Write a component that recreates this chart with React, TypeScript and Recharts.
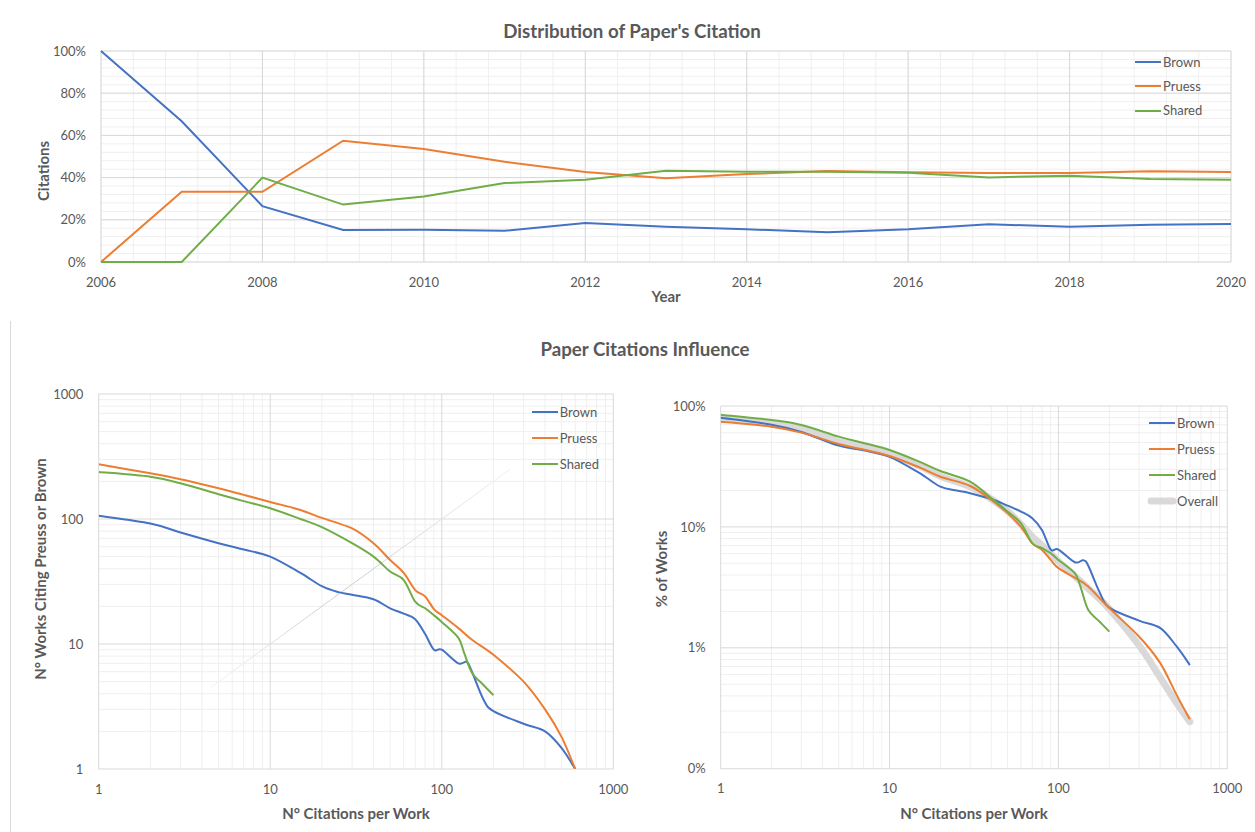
import { LineChart, Line, XAxis, YAxis, CartesianGrid, Legend } from "recharts";

const BLUE = "#4472C4";
const ORANGE = "#ED7D31";
const GREEN = "#70AD47";
const OVERALL = "#d9d9d9";
const INK = "#595959";
const GRID_MAJOR = "#d9d9d9";
const GRID_MINOR = "#efefef";
const FONT = "Lato, 'Open Sans', sans-serif";

// share of each year's citations
const years = [2006, 2007, 2008, 2009, 2010, 2011, 2012, 2013, 2014, 2015, 2016, 2017, 2018, 2019, 2020];
const brownByYear = [1.0, 0.667, 0.265, 0.152, 0.153, 0.148, 0.185, 0.167, 0.155, 0.141, 0.155, 0.179, 0.167, 0.177, 0.18];
const pruessByYear = [0, 0.333, 0.333, 0.575, 0.536, 0.475, 0.427, 0.397, 0.417, 0.431, 0.425, 0.422, 0.422, 0.43, 0.427];
const sharedByYear = [0, 0, 0.4, 0.272, 0.31, 0.374, 0.39, 0.433, 0.428, 0.428, 0.423, 0.401, 0.409, 0.393, 0.39];
const yearTicks = [2006, 2008, 2010, 2012, 2014, 2016, 2018, 2020];
const shareTicks = [0, 0.2, 0.4, 0.6, 0.8, 1];

// works citing with at least N citations
const brownCites = [1, 2, 3, 5, 7, 10, 15, 20, 25, 30, 40, 50, 60, 70, 80, 90, 100, 125, 140, 150, 175, 200, 300, 400, 500, 600];
const brownWorks = [106, 92, 78, 64, 57, 50, 37, 29, 26, 24.8, 22.8, 19.3, 17.5, 15.8, 12, 9, 9, 7, 7.2, 6, 3.6, 2.9, 2.3, 2.0, 1.47, 1];
const brownPct = [0.8, 0.7, 0.61, 0.47, 0.43, 0.38, 0.28, 0.215, 0.2, 0.19, 0.17, 0.15, 0.134, 0.118, 0.094, 0.065, 0.065, 0.051, 0.053, 0.048, 0.029, 0.0215, 0.0168, 0.0146, 0.0103, 0.0072];

const pruessCites = [1, 2, 3, 5, 7, 10, 15, 20, 30, 40, 50, 60, 70, 80, 90, 100, 125, 150, 200, 300, 400, 500, 600];
const pruessWorks = [274, 232, 208, 176, 156, 137, 118, 102, 84, 64, 47, 37, 27, 24, 19, 17, 13.4, 10.8, 8.2, 5.0, 3.0, 1.8, 1];
const pruessPct = [0.742, 0.675, 0.602, 0.485, 0.436, 0.386, 0.311, 0.26, 0.218, 0.167, 0.13, 0.1, 0.073, 0.0645, 0.0533, 0.0456, 0.038, 0.0321, 0.0213, 0.0124, 0.0075, 0.0041, 0.00256];

const sharedCites = [1, 2, 3, 5, 7, 10, 15, 20, 30, 40, 50, 60, 70, 80, 90, 100, 125, 135, 150, 175, 200];
const sharedWorks = [238, 218, 193, 158, 139, 122, 100, 86, 64, 50, 38, 32.5, 21.8, 19.3, 17, 15, 11.2, 8.5, 5.9, 4.7, 3.9];
const sharedPct = [0.848, 0.766, 0.697, 0.558, 0.495, 0.433, 0.347, 0.29, 0.237, 0.173, 0.134, 0.107, 0.0733, 0.0667, 0.0606, 0.0533, 0.0414, 0.0321, 0.0206, 0.0165, 0.0136];

const overallCites = [1, 2, 3, 5, 7, 10, 15, 20, 30, 40, 50, 60, 70, 80, 100, 150, 200, 300, 400, 500, 600];
const overallPct = [0.79, 0.71, 0.64, 0.51, 0.46, 0.405, 0.32, 0.262, 0.215, 0.17, 0.135, 0.105, 0.083, 0.07, 0.052, 0.031, 0.021, 0.0105, 0.0057, 0.0035, 0.00245];

// reference y = x guide
const diagonalCites = [4.5, 250];

const logTicks = [1, 10, 100, 1000];
const pctLogTicks = [0.001, 0.01, 0.1, 1];
const legendOrder = ["Brown", "Pruess", "Shared", "Overall"];

const toPoints = (xs: number[], ys: number[]) => xs.map((x, i) => ({ x, y: ys[i] }));
const pct = (v: number) => `${Math.round(v * 100)}%`;

// 2..9 inside every decade, for the light log grid
const logMinor = (from: number, to: number) => {
  const out: number[] = [];
  for (let d = from; d < to * 0.999; d *= 10) {
    for (let k = 2; k <= 9; k++) out.push(+(d * k).toPrecision(3));
  }
  return out;
};
const evenSteps = (from: number, to: number, step: number) => {
  const out: number[] = [];
  for (let v = from; v <= to + step / 2; v += step) out.push(+v.toFixed(4));
  return out;
};

// spreadsheet-style smoothed line: bezier segments with tangents from neighbouring points
const smoothLine = (context: any) => {
  let pts: [number, number][] = [];
  return {
    areaStart() {},
    areaEnd() {},
    lineStart() {
      pts = [];
    },
    point(x: number, y: number) {
      pts.push([+x, +y]);
    },
    lineEnd() {
      if (!pts.length) return;
      context.moveTo(pts[0][0], pts[0][1]);
      for (let i = 0; i < pts.length - 1; i++) {
        const p0 = pts[i - 1] ?? pts[i];
        const p1 = pts[i];
        const p2 = pts[i + 1];
        const p3 = pts[i + 2] ?? p2;
        context.bezierCurveTo(
          p1[0] + (p2[0] - p0[0]) / 6,
          p1[1] + (p2[1] - p0[1]) / 6,
          p2[0] - (p3[0] - p1[0]) / 6,
          p2[1] - (p3[1] - p1[1]) / 6,
          p2[0],
          p2[1]
        );
      }
    },
  };
};

const yearRows = years.map((year, i) => ({
  year,
  brown: brownByYear[i],
  pruess: pruessByYear[i],
  shared: sharedByYear[i],
}));

const tickStyle = { fill: INK, fontSize: 13, fontFamily: FONT };

const SeriesKey = ({ payload, rowHeight }: any) => {
  const items = (payload ?? [])
    .filter((entry: any) => entry.type !== "none")
    .sort((a: any, b: any) => legendOrder.indexOf(a.value) - legendOrder.indexOf(b.value));
  return (
    <div style={{ fontFamily: FONT, fontSize: 13, color: INK }}>
      {items.map((entry: any) => {
        const w = entry.payload?.strokeWidth ?? 2;
        const thick = w > 3;
        return (
          <div key={entry.value} style={{ display: "flex", alignItems: "center", height: rowHeight }}>
            <svg width={26} height={10} style={{ overflow: "visible" }}>
              <line
                x1={thick ? 2 : 0}
                x2={thick ? 24 : 26}
                y1={5}
                y2={5}
                stroke={entry.color}
                strokeWidth={w}
                strokeLinecap={thick ? "round" : "butt"}
              />
            </svg>
            <span style={{ marginLeft: 2, lineHeight: 1 }}>{entry.value}</span>
          </div>
        );
      })}
    </div>
  );
};

const Caption = ({ x, y, size, text, rotate }: { x: number; y: number; size: number; text: string; rotate?: boolean }) => (
  <div
    style={{
      position: "absolute",
      left: x,
      top: y,
      transform: `translate(-50%, -50%)${rotate ? " rotate(-90deg)" : ""}`,
      whiteSpace: "nowrap",
      fontFamily: FONT,
      fontWeight: 700,
      fontSize: size,
      lineHeight: 1,
      color: INK,
    }}
  >
    {text}
  </div>
);

const YearChart = () => (
  <div style={{ position: "absolute", left: 0, top: 0 }}>
    <LineChart width={1255} height={300} data={yearRows} margin={{ top: 51, right: 24, bottom: 8, left: 41 }}>
      <CartesianGrid stroke={GRID_MINOR} horizontalValues={evenSteps(0, 1, 0.04)} verticalValues={evenSteps(2006, 2020, 0.4)} />
      <CartesianGrid stroke={GRID_MAJOR} horizontalValues={shareTicks} verticalValues={yearTicks} />
      <XAxis
        dataKey="year"
        type="number"
        domain={[2006, 2020]}
        ticks={yearTicks}
        interval={0}
        axisLine={false}
        tickLine={false}
        tickSize={0}
        tickMargin={16}
        height={30}
        tick={tickStyle}
      />
      <YAxis
        type="number"
        domain={[0, 1]}
        ticks={shareTicks}
        interval={0}
        tickFormatter={pct}
        axisLine={false}
        tickLine={false}
        tickSize={0}
        tickMargin={15}
        width={60}
        tick={tickStyle}
      />
      <Legend
        content={<SeriesKey rowHeight={24.3} />}
        layout="vertical"
        align="center"
        verticalAlign="middle"
        wrapperStyle={{ left: 1135, top: 50, width: "auto", height: "auto" }}
      />
      <Line type="linear" dataKey="brown" name="Brown" stroke={BLUE} strokeWidth={2} dot={false} isAnimationActive={false} />
      <Line type="linear" dataKey="pruess" name="Pruess" stroke={ORANGE} strokeWidth={2} dot={false} isAnimationActive={false} />
      <Line type="linear" dataKey="shared" name="Shared" stroke={GREEN} strokeWidth={2} dot={false} isAnimationActive={false} />
    </LineChart>
  </div>
);

const logX = (
  <XAxis
    dataKey="x"
    type="number"
    scale="log"
    domain={[1, 1000]}
    ticks={logTicks}
    interval={0}
    allowDataOverflow
    axisLine={false}
    tickLine={false}
    tickSize={0}
    tickMargin={15.5}
    height={30}
    tick={tickStyle}
  />
);

const WorksChart = () => (
  <div style={{ position: "absolute", left: 0, top: 350 }}>
    <LineChart width={640} height={480} margin={{ top: 44, right: 26.7, bottom: 31, left: 38.7 }}>
      <defs>
        <linearGradient id="diagFade" x1="0" y1="1" x2="1" y2="0">
          <stop offset="0%" stopColor="#f2f2f2" />
          <stop offset="45%" stopColor="#cccccc" />
          <stop offset="100%" stopColor="#f0f0f0" />
        </linearGradient>
      </defs>
      <CartesianGrid stroke={GRID_MINOR} horizontalValues={logMinor(1, 1000)} verticalValues={logMinor(1, 1000)} />
      <CartesianGrid stroke={GRID_MAJOR} horizontalValues={logTicks} verticalValues={logTicks} />
      {logX}
      <YAxis
        type="number"
        scale="log"
        domain={[1, 1000]}
        ticks={logTicks}
        interval={0}
        allowDataOverflow
        axisLine={false}
        tickLine={false}
        tickSize={0}
        tickMargin={15.4}
        width={60}
        tick={tickStyle}
      />
      <Legend
        content={<SeriesKey rowHeight={26} />}
        layout="vertical"
        align="center"
        verticalAlign="middle"
        wrapperStyle={{ left: 531.7, top: 49, width: "auto", height: "auto" }}
      />
      <Line data={toPoints(diagonalCites, diagonalCites)} dataKey="y" name="y=x" stroke="url(#diagFade)" strokeWidth={1} dot={false} legendType="none" isAnimationActive={false} />
      <Line data={toPoints(brownCites, brownWorks)} type={smoothLine} dataKey="y" name="Brown" stroke={BLUE} strokeWidth={2} dot={false} isAnimationActive={false} />
      <Line data={toPoints(pruessCites, pruessWorks)} type={smoothLine} dataKey="y" name="Pruess" stroke={ORANGE} strokeWidth={2} dot={false} isAnimationActive={false} />
      <Line data={toPoints(sharedCites, sharedWorks)} type={smoothLine} dataKey="y" name="Shared" stroke={GREEN} strokeWidth={2} dot={false} isAnimationActive={false} />
    </LineChart>
  </div>
);

const ShareChart = () => (
  <div style={{ position: "absolute", left: 640, top: 350 }}>
    <LineChart width={615} height={480} margin={{ top: 56, right: 27.7, bottom: 31.3, left: 20.7 }}>
      <CartesianGrid stroke={GRID_MINOR} horizontalValues={logMinor(0.001, 1)} verticalValues={logMinor(1, 1000)} />
      <CartesianGrid stroke={GRID_MAJOR} horizontalValues={pctLogTicks} verticalValues={logTicks} />
      {logX}
      <YAxis
        type="number"
        scale="log"
        domain={[0.001, 1]}
        ticks={pctLogTicks}
        interval={0}
        allowDataOverflow
        tickFormatter={pct}
        axisLine={false}
        tickLine={false}
        tickSize={0}
        tickMargin={15}
        width={60}
        tick={tickStyle}
      />
      <Legend
        content={<SeriesKey rowHeight={26} />}
        layout="vertical"
        align="center"
        verticalAlign="middle"
        wrapperStyle={{ left: 509, top: 60.3, width: "auto", height: "auto" }}
      />
      <Line data={toPoints(overallCites, overallPct)} type={smoothLine} dataKey="y" name="Overall" stroke={OVERALL} strokeWidth={7} strokeLinecap="round" dot={false} isAnimationActive={false} />
      <Line data={toPoints(brownCites, brownPct)} type={smoothLine} dataKey="y" name="Brown" stroke={BLUE} strokeWidth={2} dot={false} isAnimationActive={false} />
      <Line data={toPoints(pruessCites, pruessPct)} type={smoothLine} dataKey="y" name="Pruess" stroke={ORANGE} strokeWidth={2} dot={false} isAnimationActive={false} />
      <Line data={toPoints(sharedCites, sharedPct)} type={smoothLine} dataKey="y" name="Shared" stroke={GREEN} strokeWidth={2} dot={false} isAnimationActive={false} />
    </LineChart>
  </div>
);

export default function App() {
  return (
    <div style={{ position: "absolute", left: 0, top: 0, width: 1255, height: 832, background: "#fff", overflow: "hidden" }}>
      <YearChart />
      <Caption x={632} y={31} size={18.7} text="Distribution of Paper's Citation" />
      <Caption x={666} y={296} size={15} text="Year" />
      <Caption x={43} y={171} size={15} text="Citations" rotate />

      <div style={{ position: "absolute", left: 10, top: 321, width: 0, height: 511, borderLeft: "1px solid #d9d9d9" }} />
      <Caption x={645} y={349} size={18.7} text="Paper Citations Influence" />
      <WorksChart />
      <ShareChart />
      <Caption x={356} y={813} size={15} text="N° Citations per Work" />
      <Caption x={974} y={813} size={15} text="N° Citations per Work" />
      <Caption x={40} y={569} size={15} text="N° Works Citing Preuss or Brown" rotate />
      <Caption x={661} y={569} size={15} text="% of Works" rotate />
    </div>
  );
}
